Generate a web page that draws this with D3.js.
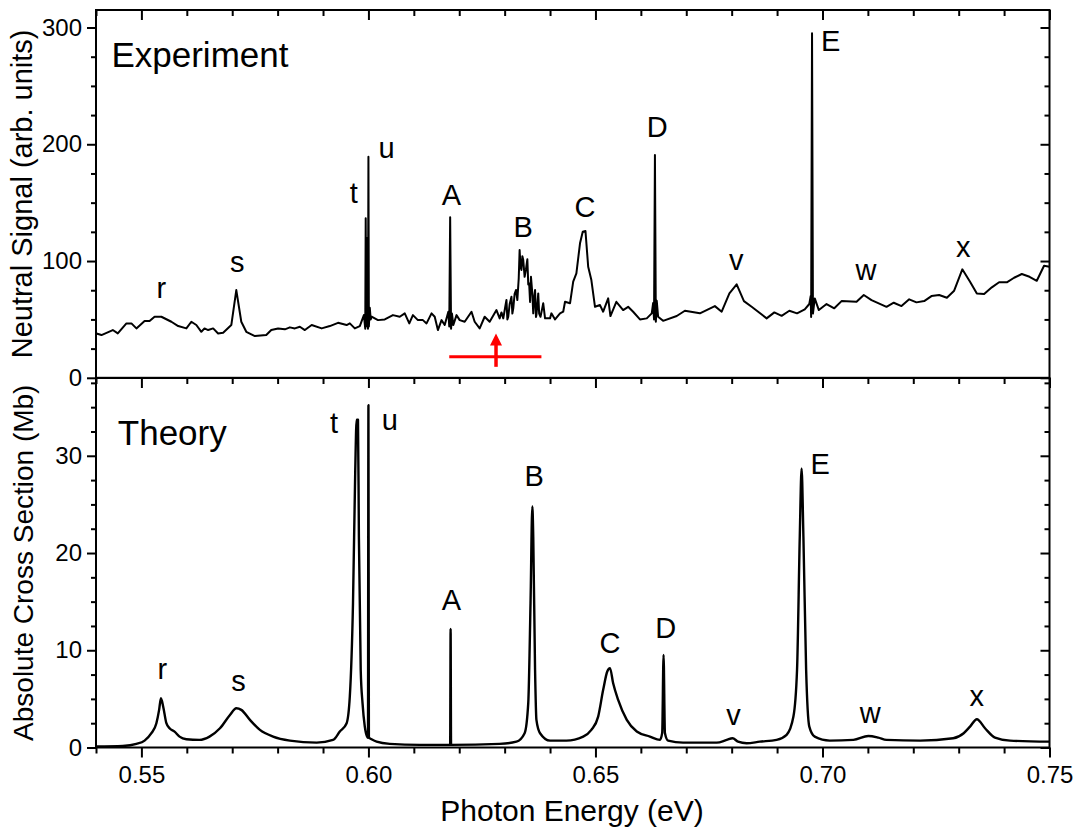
<!DOCTYPE html>
<html><head><meta charset="utf-8">
<script src="https://cdn.jsdelivr.net/npm/d3@7"></script>
<style>
body{margin:0;background:#fff;}
text{font-family:"Liberation Sans",Arial,Helvetica,sans-serif;fill:#000;}
</style>
</head><body>
<svg id="chart" width="1078" height="830"></svg>
<script>
// ---------- data ----------
const xDomain = [0.54, 0.75];
const xMajorTicks = [0.55, 0.60, 0.65, 0.70, 0.75];
const xTickLabels = ["0.55", "0.60", "0.65", "0.70", "0.75"];
const xMinorTicks = [0.54,0.56,0.57,0.58,0.59,0.61,0.62,0.63,0.64,0.66,0.67,0.68,0.69,0.71,0.72,0.73,0.74];

const expDomain = [0, 315];
const expMajorTicks = [0, 100, 200, 300];
const expTickLabels = ["0", "100", "200", "300"];
const expMinorTicks = [25, 50, 75, 125, 150, 175, 225, 250, 275];

const thDomain = [0, 38];
const thMajorTicks = [0, 10, 20, 30];
const thTickLabels = ["0", "10", "20", "30"];
const thMinorTicks = [2.5, 5, 7.5, 12.5, 15, 17.5, 22.5, 25, 27.5, 32.5, 35, 37.5];

const expEnergy = [
0.5401,0.5412,0.5437,0.5448,0.5467,0.5478,0.5489,0.5507,0.5518,0.5529,0.5544,0.5566,0.5581,0.5599,0.5610,0.5621,0.5632,0.5639,0.5647,0.5658,0.5669,0.5680,0.5698,0.5709,0.5720,0.5731,0.5750,0.5775,0.5786,0.5801,0.5816,0.5827,0.5838,0.5849,0.5860,0.5875,0.5897,0.5915,0.5933,0.5952,0.5959,0.5970,0.5981,0.5990,
0.5993,0.5994,0.5995,0.5996,0.5997,0.5998,0.5999,0.6000,0.6001,0.6003,0.6005,0.6007,0.6021,0.6036,0.6054,0.6069,0.6080,0.6090,0.6098,0.6109,0.6120,0.6128,0.6139,0.6146,0.6153,0.6161,0.6168,0.6176,
0.6178,0.6180,0.6182,0.6184,0.6187,0.6194,0.6201,0.6212,0.6227,0.6234,0.6245,0.6256,0.6267,0.6282,0.6289,
0.6293,0.6297,0.6301,0.6304,0.6306,0.6308,0.6311,0.6315,0.6317,0.6319,0.6322,0.6325,0.6328,0.6331,0.6333,0.6335,0.6337,0.6339,0.6341,0.6344,0.6347,0.6350,0.6352,0.6354,0.6356,0.6358,0.6361,0.6363,0.6365,0.6367,0.6369,0.6370,0.6372,0.6374,0.6376,0.6379,0.6382,0.6385,0.6389,
0.6400,0.6403,0.6411,0.6422,0.6429,0.6433,0.6444,0.6451,0.6458,0.6466,0.6472,0.6478,0.6484,0.6491,0.6499,0.6510,0.6517,0.6528,0.6533,0.6546,0.6561,0.6572,0.6583,0.6598,0.6613,0.6624,
0.6627,0.6629,0.6631,0.6633,0.6635,0.6638,0.6649,0.6679,0.6697,0.6730,0.6763,0.6778,0.6795,0.6811,0.6827,0.6844,0.6877,0.6894,0.6910,0.6927,0.6944,0.6961,0.6971,
0.6974,0.6975,0.6977,0.6979,0.6983,0.6992,0.7009,0.7026,0.7042,0.7075,0.7091,0.7108,0.7141,0.7157,0.7174,0.7191,0.7207,0.7224,0.7240,0.7257,0.7274,0.7290,0.7308,0.7325,0.7340,0.7356,0.7373,0.7389,0.7406,0.7422,0.7439,0.7456,0.7472,0.7488,0.7500
];
const expSignal = [
38,36.6,40.9,38,46.6,46.6,42.3,48.6,48.6,52.3,52.3,48,44.3,42.3,48,45.2,39.4,42.3,40.9,42.3,38,38.6,45.2,75.1,48,39.4,35.7,36.6,40.9,42.3,41.5,43.2,42.3,43.7,40.9,45.2,42.3,44.3,47.1,45.2,46.6,42.3,44.3,53.7,
42,136.7,44,120,46,70,42,189.4,44,60,50,52.3,49.4,50,53.7,52.3,55.2,46.6,53.7,49.4,49.4,46.6,55.2,52.3,40.9,49.4,45.2,56.6,
44,137.4,42,55,45.2,53.7,49.4,48,56.6,48,42.3,52.3,48,58,50.9,
56,50.9,60,66.6,50,52.3,63,69.4,55,59.5,72,75.2,66.6,85,109.4,95,92.3,104,100.9,86.5,93,101.5,80,80.9,65,86.5,72,55.2,68,75.2,52,53.7,62,72.3,55,52.3,58,63.8,50.9,
50.9,55.2,50,55.2,56.6,65.1,63.8,82.3,89.5,115.2,125.1,125.7,95.1,83.7,60.8,62.3,56.6,68,52.9,65.1,58,60.8,56.6,50,50.9,55.2,
64,50,190.8,48,66,52.3,48.8,52.9,57.4,55.2,61.4,56.6,72.3,80,65.7,60.8,50.9,56,53.1,57.4,55.2,58.6,63.2,
70,52,295,55,68,58,63.2,59.5,65.7,65.1,70.9,66.6,60.8,64.3,61.4,67.2,64.6,65.7,70,70.9,68.6,74.6,92.9,82.3,72.3,71.7,77.5,81.8,81.8,85.7,88.9,86.5,83.1,96,95.1
];

const theoryEnergy = [
0.5400,0.5459,0.5489,0.5507,0.5522,0.5533,0.5539,0.5543,0.5548,0.5555,0.5562,0.5573,0.5584,0.5599,0.5628,0.5650,0.5673,0.5695,0.5709,0.5720,0.5739,0.5761,0.5790,0.5827,0.5886,0.5922,0.5937,0.5952,0.5959,0.5966,0.5971,0.5974,0.5977,0.5979,0.5983,0.5987,0.5992,0.5997,
0.5999,0.6000,0.6001,0.6003,0.6018,0.6047,0.6113,0.6180,0.6181,0.6182,0.6289,0.6326,0.6344,0.6352,0.6357,0.6361,0.6363,0.6367,0.6370,0.6378,0.6400,0.6436,0.6473,0.6491,0.6506,0.6517,0.6526,0.6532,0.6539,0.6550,0.6569,0.6591,0.6620,0.6642,
0.6647,0.6650,0.6653,0.6660,0.6693,0.6767,0.6789,0.6802,0.6814,0.6833,0.6862,0.6899,0.6921,0.6936,0.6944,0.6950,0.6954,0.6958,0.6964,0.6971,0.6983,0.7016,0.7068,0.7101,0.7123,0.7141,0.7215,0.7288,0.7311,0.7325,0.7340,0.7358,0.7380,0.7413,0.7500
];
const theoryXS = [
0.1,0.16,0.37,0.71,1.47,2.5,3.87,5.07,4.2,2.5,1.98,1.64,1.12,0.85,0.78,1.12,1.98,3.35,4.04,3.87,2.84,1.81,1.12,0.71,0.5,0.78,1.64,2.5,5.24,14.8,28.6,33.7,33.7,21.7,8,4.56,2.15,1.12,
1.0,35.2,1.0,0.95,0.6,0.37,0.27,0.27,12.2,0.27,0.37,0.6,1.47,4.56,14.85,24.8,21.7,8,2.84,1.47,0.71,0.71,1.12,1.81,3.18,5.93,7.81,8.16,6.6,4.9,2.84,1.64,1.12,0.78,
1.5,9.53,1.5,0.71,0.5,0.5,0.78,0.95,0.6,0.44,0.6,0.78,1.3,3.18,8,21.7,28.7,21.7,8,2.15,1.12,0.71,0.78,1.19,1.02,0.78,0.71,0.95,1.47,2.15,2.91,1.98,1.02,0.71,0.6
];

const peakNames = ["r","s","t","u","A","B","C","D","v","E","w","x"];
const expLabelE = [0.5544,0.5711,0.5968,0.6040,0.6183,0.6341,0.6477,0.6636,0.6810,0.7018,0.7096,0.7310];
const expLabelV = [68.3,90.8,149.4,188,148,120.3,138,206,92.3,280.2,83.7,103.7];
const thLabelE = [0.5546,0.5714,0.5924,0.6047,0.6183,0.6365,0.6532,0.6655,0.6804,0.6995,0.7105,0.7340];
const thLabelV = [7.03,5.85,32.3,32.7,14.1,26.9,9.7,11.25,2.3,28.1,2.56,4.28];

const expTitle = {text: "Experiment", e: 0.5434, v: 266.5};
const thTitle = {text: "Theory", e: 0.5448, v: 31.1};
const xTitle = "Photon Energy (eV)";
const expYTitle = "Neutral Signal (arb. units)";
const thYTitle = "Absolute Cross Section (Mb)";

const markerRange = [0.6178, 0.6381];
const markerLevel = 18;
const arrowE = 0.6281;
const arrowFrom = 9.4;
const arrowTo = 38;

// ---------- drawing ----------
const svg = d3.select("#chart");
const x = d3.scaleLinear().domain(xDomain).range([96, 1049.5]);
const yTop = d3.scaleLinear().domain(expDomain).range([377.8, 10]);
const yBot = d3.scaleLinear().domain(thDomain).range([747.5, 378]);
const L = 96, R = 1049.5;

function styleAxis(g, fs) {
  g.select(".domain").remove();
  g.selectAll(".tick line").attr("stroke", "#000").attr("stroke-width", 2);
  g.selectAll(".tick text").attr("font-size", fs).attr("fill", "#000")
    .style("font-family", '"Liberation Sans", Arial, sans-serif');
}

function panel(y, majors, labels, minors, top, bottom, showXLabels) {
  const gl = svg.append("g").attr("transform", `translate(${L},0)`)
    .call(d3.axisLeft(y).tickValues(majors).tickSize(9).tickPadding(5)
      .tickFormat((d, i) => labels[i]));
  styleAxis(gl, 24);
  const glm = svg.append("g").attr("transform", `translate(${L},0)`)
    .call(d3.axisLeft(y).tickValues(minors).tickSize(5).tickFormat(""));
  styleAxis(glm, 24);
  const gr = svg.append("g").attr("transform", `translate(${R},0)`)
    .call(d3.axisLeft(y).tickValues(majors).tickSize(9).tickFormat(""));
  styleAxis(gr, 24);
  const grm = svg.append("g").attr("transform", `translate(${R},0)`)
    .call(d3.axisLeft(y).tickValues(minors).tickSize(5).tickFormat(""));
  styleAxis(grm, 24);
  const gt = svg.append("g").attr("transform", `translate(0,${top})`)
    .call(d3.axisBottom(x).tickValues(xMajorTicks).tickSize(10).tickFormat(""));
  styleAxis(gt, 24);
  const gtm = svg.append("g").attr("transform", `translate(0,${top})`)
    .call(d3.axisBottom(x).tickValues(xMinorTicks).tickSize(6).tickFormat(""));
  styleAxis(gtm, 24);
  if (showXLabels) {
    const gb = svg.append("g").attr("transform", `translate(0,${bottom})`)
      .call(d3.axisBottom(x).tickValues(xMajorTicks).tickSize(10).tickPadding(8)
        .tickFormat((d, i) => xTickLabels[i]));
    styleAxis(gb, 24);
    const gbm = svg.append("g").attr("transform", `translate(0,${bottom})`)
      .call(d3.axisBottom(x).tickValues(xMinorTicks).tickSize(6).tickFormat(""));
    styleAxis(gbm, 24);
  }
  svg.append("rect").attr("x", L).attr("y", top).attr("width", R - L).attr("height", bottom - top)
    .attr("fill", "none").attr("stroke", "#000").attr("stroke-width", 2);
}

panel(yTop, expMajorTicks, expTickLabels, expMinorTicks, yTop(expDomain[1]), yTop(0), false);
panel(yBot, thMajorTicks, thTickLabels, thMinorTicks, yBot(thDomain[1]), yBot(0), true);

// experiment line
const expData = expEnergy.map((e, i) => [e, expSignal[i]]);
svg.append("path").datum(expData)
  .attr("fill", "none").attr("stroke", "#000").attr("stroke-width", 2).attr("stroke-linejoin", "round")
  .attr("d", d3.line().x(d => x(d[0])).y(d => yTop(d[1])));

// theory line
const thData = theoryEnergy.map((e, i) => [e, theoryXS[i]]);
svg.append("path").datum(thData)
  .attr("fill", "none").attr("stroke", "#000").attr("stroke-width", 2.4).attr("stroke-linejoin", "round")
  .attr("d", d3.line().curve(d3.curveMonotoneX).x(d => x(d[0])).y(d => yBot(d[1])));

// red marker
svg.append("line")
  .attr("x1", x(markerRange[0])).attr("x2", x(markerRange[1]))
  .attr("y1", yTop(markerLevel)).attr("y2", yTop(markerLevel))
  .attr("stroke", "#ff0000").attr("stroke-width", 3);
const ax = x(arrowE), ayTip = yTop(arrowTo);
svg.append("line")
  .attr("x1", ax).attr("x2", ax).attr("y1", yTop(arrowFrom)).attr("y2", ayTip + 8)
  .attr("stroke", "#ff0000").attr("stroke-width", 3.5);
svg.append("path")
  .attr("d", `M${ax},${ayTip} L${ax - 6},${ayTip + 12} L${ax + 6},${ayTip + 12} Z`)
  .attr("fill", "#ff0000");

// peak labels
svg.append("g").selectAll("text").data(peakNames).join("text")
  .attr("x", (d, i) => x(expLabelE[i])).attr("y", (d, i) => yTop(expLabelV[i]))
  .attr("text-anchor", "middle").attr("font-size", 29).text(d => d);
svg.append("g").selectAll("text").data(peakNames).join("text")
  .attr("x", (d, i) => x(thLabelE[i])).attr("y", (d, i) => yBot(thLabelV[i]))
  .attr("text-anchor", "middle").attr("font-size", 29).text(d => d);

// panel titles
svg.append("text").attr("x", x(expTitle.e)).attr("y", yTop(expTitle.v))
  .attr("font-size", 35).text(expTitle.text);
svg.append("text").attr("x", x(thTitle.e)).attr("y", yBot(thTitle.v))
  .attr("font-size", 35).text(thTitle.text);

// axis titles
svg.append("text").attr("text-anchor", "middle").attr("font-size", 29)
  .attr("transform", `translate(32,${(yTop(expDomain[1]) + yTop(0)) / 2}) rotate(-90)`)
  .text(expYTitle);
svg.append("text").attr("text-anchor", "middle").attr("font-size", 28)
  .attr("transform", `translate(33,${(yBot(thDomain[1]) + yBot(0)) / 2}) rotate(-90)`)
  .text(thYTitle);
svg.append("text").attr("text-anchor", "middle").attr("font-size", 30)
  .attr("x", 572).attr("y", 821).text(xTitle);
</script>
</body></html>
